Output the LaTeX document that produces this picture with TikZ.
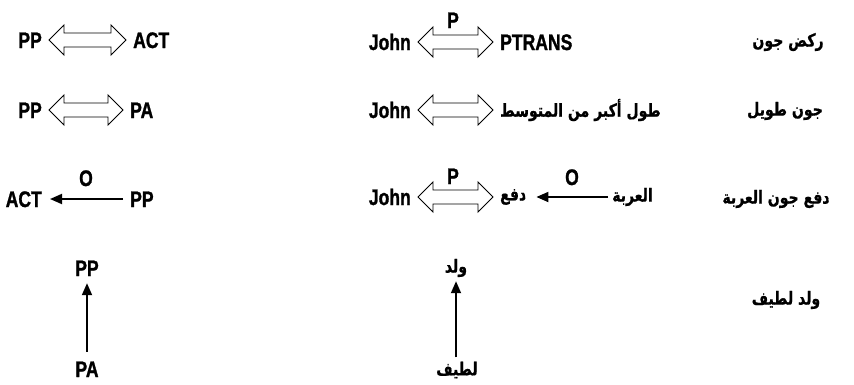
\documentclass[tikz,border=0pt]{standalone}
\usepackage{fontspec}
\usetikzlibrary{calc,arrows.meta}
\TeXXeTstate=1
\newfontfamily\narrowbold[FakeStretch=0.78,FakeBold=1.2]{Liberation Sans}
\newfontfamily\arabicfont[Script=Arabic,FakeStretch=0.78,FakeBold=0.8]{DejaVu Sans}

\tikzset{
  lat/.style={font=\narrowbold\bfseries\fontsize{22.5}{26}\selectfont,
              inner sep=0pt, text height=16pt, text depth=0pt},
  ar/.style={font=\arabicfont\bfseries\fontsize{18}{22}\selectfont, inner sep=0pt},
  % hollow two-headed arrow drawn between two text nodes
  dbl/.style={draw=black, line width=0.9pt, line join=miter, fill=white,
    to path={let \p1=(\tikztostart), \p2=(\tikztotarget) in
      (\x1+7pt,\y1) -- ++(15pt,15pt) -- ++(0,-8pt) -- (\x2-22pt,\y1+7pt)
      -- ++(0,8pt) -- (\x2-7pt,\y1) -- ++(-15pt,-15pt) -- ++(0,8pt)
      -- (\x1+22pt,\y1-7pt) -- ++(0,-8pt) -- cycle}},
  arr/.style={line width=1.8pt, -{Triangle[length=12pt,width=10pt]}}
}

\begin{document}
\begin{tikzpicture}[x=1pt,y=-1pt]
\useasboundingbox (0,0) rectangle (854,384);

% row 1
\node[lat,anchor=east] (pp1) at (42,40) {PP};
\node[lat,anchor=west] (act1) at (133,40) {ACT};
\draw[dbl] (pp1.east) to (act1.west);
\node[lat,anchor=east] (john1) at (411,42) {John};
\node[lat,anchor=west] (ptrans) at (500,42) {PTRANS};
\draw[dbl] (john1.east) to (ptrans.west);
\node[lat] (p1) at (453,20) {P};
\node[ar] (s1) at (788,42) {\beginR ركض جون\endR};

% row 2
\node[lat,anchor=east] (pp2) at (42,110) {PP};
\node[lat,anchor=west] (pa2) at (130,110) {PA};
\draw[dbl] (pp2.east) to (pa2.west);
\node[lat,anchor=east] (john2) at (411,110) {John};
\node[ar,anchor=west] (tall) at (500,110) {\beginR طول أكبر من المتوسط\endR};
\draw[dbl] (john2.east) to (tall.west);
\node[ar] (s2) at (785,111) {\beginR جون طويل\endR};

% row 3
\node[lat,anchor=east] (act3) at (42,199) {ACT};
\node[lat,anchor=west] (pp3) at (130,199) {PP};
\draw[arr, shorten <=7pt, shorten >=8pt] (pp3.west) -- (act3.east);
\node[lat] (o1) at (86,178) {O};
\node[lat,anchor=east] (john3) at (411,197) {John};
\node[ar,anchor=west] (push) at (500,197) {\beginR دفع\endR};
\draw[dbl] (john3.east) to (push.west);
\node[lat] (p3) at (453,176) {P};
\node[ar,anchor=west] (cart) at (612,197) {\beginR العربة\endR};
\draw[arr, shorten <=4pt, shorten >=10pt] (cart.west) -- (cart.west -| push.east);
\node[lat] (o2) at (572,177) {O};
\node[ar] (s3) at (776,199) {\beginR دفع جون العربة\endR};

% row 4
\node[lat] (pp4) at (87,268) {PP};
\node[lat] (pa4) at (87,369) {PA};
\draw[arr, shorten <=9pt, shorten >=7pt] (pa4.north) -- (pp4.south);
\node[ar] (boy) at (456,268) {\beginR ولد\endR};
\node[ar] (nice) at (457,370) {\beginR لطيف\endR};
\draw[arr, shorten <=4pt, shorten >=4pt] (nice.north -| boy) -- (boy.south);
\node[ar] (s4) at (786,300) {\beginR ولد لطيف\endR};
\end{tikzpicture}
\end{document}
